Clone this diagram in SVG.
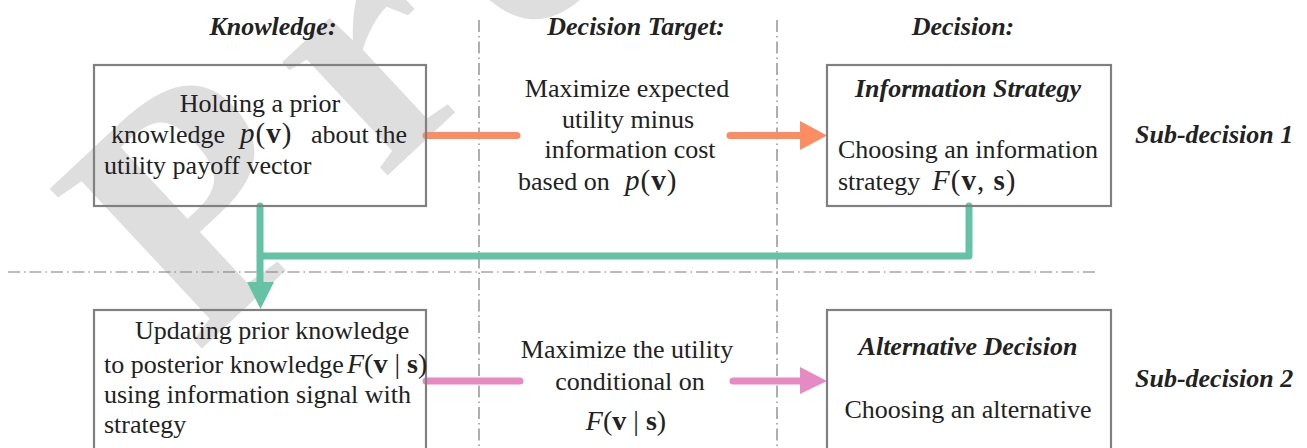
<svg xmlns="http://www.w3.org/2000/svg" width="1307" height="448" viewBox="0 0 1307 448">
<defs>
<style>
.wm{font-family:"Liberation Serif","Times New Roman",serif;font-size:337px;font-weight:bold;fill:#dedede;letter-spacing:47px;}
.hd{font-family:"Liberation Serif","Times New Roman",serif;font-size:26px;font-weight:bold;font-style:italic;fill:#222;}
.tx{font-family:"Liberation Serif","Times New Roman",serif;font-size:26px;fill:#222;}
.m{font-size:28px;}
.m2{font-size:29px;letter-spacing:1px;}
.it{font-style:italic;}
.b{font-weight:bold;}
.box{fill:none;stroke:#808080;stroke-width:2.2;}
.grid{fill:none;stroke:#7a7a7a;stroke-width:1.2;stroke-dasharray:12 4 1.5 4;}
.c{fill:none;stroke-width:7;stroke-linecap:round;stroke-linejoin:round;}
</style>
</defs>
<rect width="1307" height="448" fill="#ffffff"/>
<text class="wm" x="196" y="354" transform="rotate(-43 196 354)">Preprint</text>

<g id="grid">
<line class="grid" x1="479" y1="20" x2="479" y2="448"/>
<line class="grid" x1="777" y1="20" x2="777" y2="448"/>
<line class="grid" x1="8" y1="272" x2="1095" y2="272"/>
</g>

<g id="headers">
<text class="hd" x="273" y="35" text-anchor="middle">Knowledge:</text>
<text class="hd" x="636" y="35" text-anchor="middle">Decision Target:</text>
<text class="hd" x="963" y="35" text-anchor="middle">Decision:</text>
<text class="hd" x="1135" y="143">Sub-decision 1</text>
<text class="hd" x="1135" y="387">Sub-decision 2</text>
</g>

<g id="connectors">
<path class="c" stroke="#FC8D62" d="M426,135.5 H517 M730,135.5 H802"/>
<polygon fill="#FC8D62" points="800,121 827,135.5 800,150"/>
<path class="c" stroke="#66C2A5" d="M260,206 V284"/>
<path class="c" stroke="#66C2A5" d="M969,206 V256 H262"/>
<polygon fill="#66C2A5" points="247,282 274,282 260.5,309"/>
<path class="c" stroke="#E78AC3" d="M426,381 H520 M733,381 H802"/>
<polygon fill="#E78AC3" points="800,367 827,381 800,394"/>
</g>

<g id="node-knowledge">
<rect class="box" x="94" y="65" width="332" height="141"/>
<text class="tx" x="260" y="112" text-anchor="middle">Holding a prior</text>
<text class="tx" y="143"><tspan x="111">knowledge</tspan><tspan x="240" class="m2 it">p</tspan><tspan class="m2">(</tspan><tspan class="m2 b">v</tspan><tspan class="m2">)</tspan><tspan x="311">about the</tspan></text>
<text class="tx" x="104" y="174">utility payoff vector</text>
</g>

<g id="node-target1">
<text class="tx" x="627" y="97" text-anchor="middle">Maximize expected</text>
<text class="tx" x="628" y="128" text-anchor="middle">utility minus</text>
<text class="tx" x="630" y="158" text-anchor="middle">information cost</text>
<text class="tx" y="190"><tspan x="518">based on</tspan><tspan x="625" class="m2 it">p</tspan><tspan class="m2">(</tspan><tspan class="m2 b">v</tspan><tspan class="m2">)</tspan></text>
</g>

<g id="node-info-strategy">
<rect class="box" x="827" y="65" width="284" height="141"/>
<text class="hd" x="968" y="97" text-anchor="middle">Information Strategy</text>
<text class="tx" x="838" y="158">Choosing an information</text>
<text class="tx" y="190"><tspan x="838">strategy</tspan><tspan x="932" class="m2 it">F</tspan><tspan class="m2">(</tspan><tspan class="m2 b">v</tspan><tspan class="m2">, </tspan><tspan class="m2 b">s</tspan><tspan class="m2">)</tspan></text>
</g>

<g id="node-update">
<rect class="box" x="94" y="310" width="332" height="150"/>
<text class="tx" x="135" y="339">Updating prior knowledge</text>
<text class="tx" y="373"><tspan x="104">to posterior knowledge</tspan><tspan x="347" class="m it">F</tspan><tspan class="m">(</tspan><tspan class="m b">v</tspan><tspan class="m"> | </tspan><tspan class="m b">s</tspan><tspan class="m">)</tspan></text>
<text class="tx" x="104" y="403">using information signal with</text>
<text class="tx" x="104" y="433">strategy</text>
</g>

<g id="node-target2">
<text class="tx" x="627" y="358" text-anchor="middle">Maximize the utility</text>
<text class="tx" x="630" y="390" text-anchor="middle">conditional on</text>
<text class="tx" x="626" y="430" text-anchor="middle"><tspan class="m it">F</tspan><tspan class="m">(</tspan><tspan class="m b">v</tspan><tspan class="m"> | </tspan><tspan class="m b">s</tspan><tspan class="m">)</tspan></text>
</g>

<g id="node-alternative">
<rect class="box" x="827" y="310" width="284" height="150"/>
<text class="hd" x="968" y="355" text-anchor="middle">Alternative Decision</text>
<text class="tx" x="968" y="418" text-anchor="middle">Choosing an alternative</text>
</g>
</svg>
